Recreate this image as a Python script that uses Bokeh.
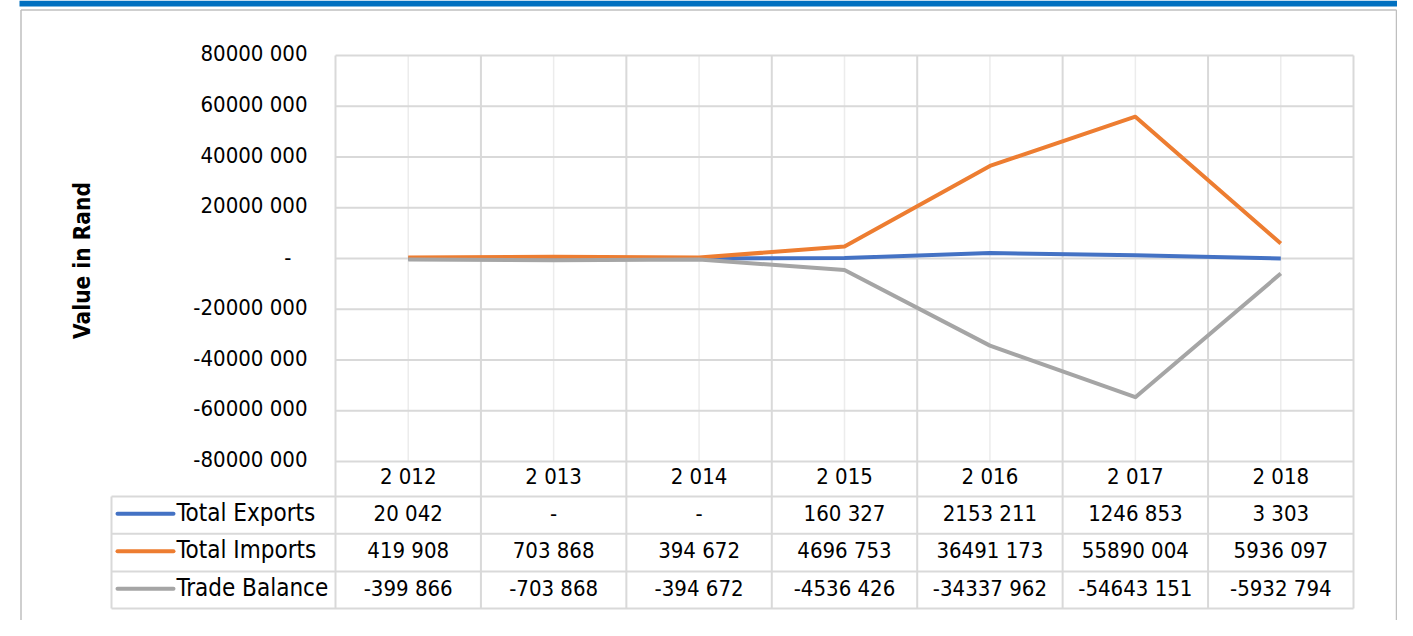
import math
from bokeh.plotting import figure
from bokeh.models import Range1d
from bokeh.core.properties import value
from bokeh.embed import file_html
from bokeh.resources import INLINE

# ---------------- data ----------------
years = [2012, 2013, 2014, 2015, 2016, 2017, 2018]
total_exports = [20042, 0, 0, 160327, 2153211, 1246853, 3303]
total_imports = [419908, 703868, 394672, 4696753, 36491173, 55890004, 5936097]
trade_balance = [-399866, -703868, -394672, -4536426, -34337962, -54643151, -5932794]
series_names = ["Total Exports", "Total Imports", "Trade Balance"]
series_colors = ["#4472C4", "#ED7D31", "#A5A5A5"]
y_ticks = [80000000, 60000000, 40000000, 20000000, 0,
           -20000000, -40000000, -60000000, -80000000]
y_title = "Value in Rand"


def fmt(v):
    """Excel-like '# ##0' format with '-' for zero."""
    v = int(round(v))
    if v == 0:
        return "-"
    sign = "-" if v < 0 else ""
    a = abs(v)
    if a >= 1000:
        return f"{sign}{a // 1000} {a % 1000:03d}"
    return f"{sign}{a}"


# ---------------- layout (pixels of the picture) ----------------
W, H = 1397, 620
PL, PR = 335, 1353          # plot area left / right
PT, PB = 55, 461            # pixel of top / bottom y tick
n = len(years)
CW = (PR - PL) / n
Y_MAX, Y_MIN = max(y_ticks), min(y_ticks)


def xd(px):
    return (px - PL) / CW - 0.5


def yd(py):
    return Y_MIN + (PB - py) * (Y_MAX - Y_MIN) / (PB - PT)


FONT = value("DejaVu Sans Condensed")
TS = "22px"
GRID = "#D9D9D9"

p = figure(width=W, height=H, output_backend="svg", toolbar_location=None,
           x_range=Range1d(xd(0), xd(W)),
           y_range=Range1d(yd(H), yd(0)),
           x_axis_type=None, y_axis_type=None, title=None,
           min_border=0, outline_line_color=None)
p.grid.visible = False

# decorations: top band and outer frame
p.quad(left=[xd(19)], right=[xd(W)], top=[yd(0)], bottom=[yd(6)],
       fill_color="#0070C0", line_color=None)
p.segment(x0=[xd(20.5), xd(1396), xd(20.5)], y0=[yd(9.5), yd(9.5), yd(9.5)],
          x1=[xd(20.5), xd(1396), xd(1396)], y1=[yd(H + 5), yd(H + 5), yd(9.5)],
          line_color="#BFBFBF", line_width=1.5)

# row boundaries of the data table
rows_px = [496, 533.3, 571, 608]
TL = 111

# minor vertical lines at category centres
p.segment(x0=list(range(n)), y0=[Y_MAX] * n, x1=list(range(n)), y1=[Y_MIN] * n,
          line_color="#ECECEC", line_width=1.5)
# horizontal gridlines
p.segment(x0=[xd(PL)] * len(y_ticks), y0=y_ticks, x1=[xd(PR)] * len(y_ticks), y1=y_ticks,
          line_color=GRID, line_width=2)
# table horizontal lines
p.segment(x0=[xd(TL)] * len(rows_px), y0=[yd(r) for r in rows_px],
          x1=[xd(PR)] * len(rows_px), y1=[yd(r) for r in rows_px],
          line_color=GRID, line_width=2)
# vertical category boundaries
bx = [k - 0.5 for k in range(n + 1)]
p.segment(x0=bx, y0=[Y_MAX] * len(bx), x1=bx, y1=[yd(rows_px[-1])] * len(bx),
          line_color=GRID, line_width=2)
p.segment(x0=[xd(TL)], y0=[yd(rows_px[0])], x1=[xd(TL)], y1=[yd(rows_px[-1])],
          line_color=GRID, line_width=2)

# series lines
xs = list(range(n))
for vals, col in zip([total_exports, total_imports, trade_balance], series_colors):
    p.line(xs, vals, line_color=col, line_width=4, line_join="round")

# y tick labels
tick_lbl = [fmt(t) for t in y_ticks]
tick_x = [xd(307) if s != "-" else xd(291) for s in tick_lbl]
p.text(x=tick_x, y=y_ticks, text=tick_lbl, text_font=FONT, text_font_size=TS,
       text_align="right", text_baseline="middle", text_color="#000000",
       y_offset=-2)

# y axis title
p.text(x=[xd(81)], y=[yd(260)], text=[y_title], angle=math.pi / 2,
       text_font=FONT, text_font_size="22.5px", text_font_style="bold",
       text_align="center", text_baseline="middle", text_color="#000000")

# year header row
p.text(x=xs, y=[yd(476)] * n, text=[fmt(y) for y in years], text_font=FONT,
       text_font_size=TS, text_align="center", text_baseline="middle",
       text_color="#000000")

# data rows with legend keys
for r, (name, vals, col) in enumerate(zip(series_names,
                                          [total_exports, total_imports, trade_balance],
                                          series_colors)):
    top, bot = rows_px[r], rows_px[r + 1]
    cy = (top + bot) / 2
    p.text(x=xs, y=[yd(cy - 2)] * n, text=[fmt(v) for v in vals], text_font=FONT,
           text_font_size=TS, text_align="center", text_baseline="middle",
           text_color="#000000")
    p.segment(x0=[xd(117)], y0=[yd(cy - 1.3)], x1=[xd(173)], y1=[yd(cy - 1.3)],
              line_color=col, line_width=4, line_cap="round")
    p.text(x=[xd(176)], y=[yd(cy - 2.5)], text=[name], text_font=FONT,
           text_font_size="24px", text_align="left", text_baseline="middle",
           text_color="#000000")

open("out.html", "w").write(file_html(p, INLINE))
